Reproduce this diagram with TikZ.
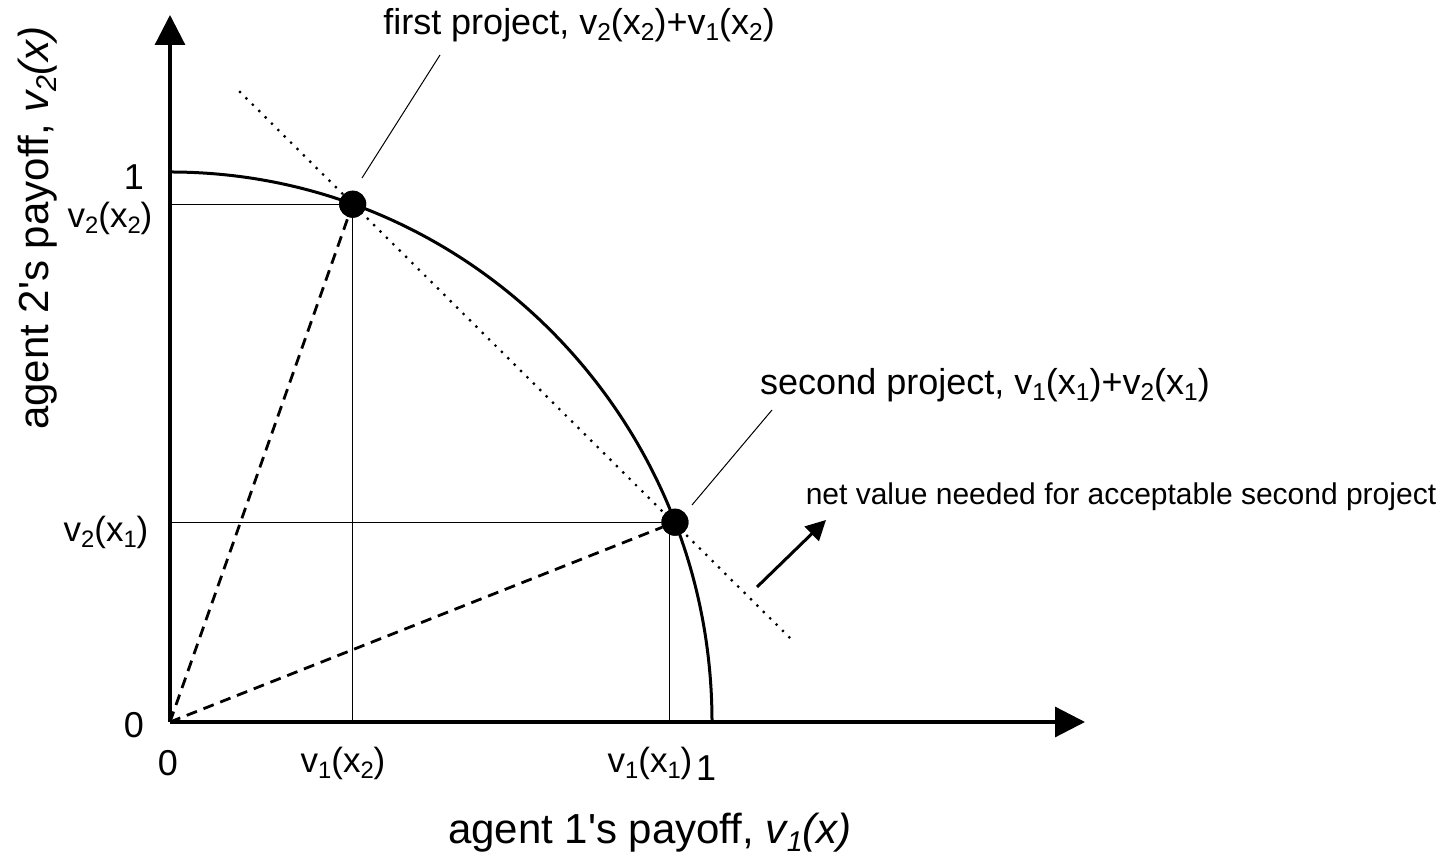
\documentclass[tikz,border=0pt]{standalone}
\usepackage{fontspec}
\setmainfont{Liberation Sans}
\usetikzlibrary{arrows.meta,calc}
\newcommand{\sbx}[1]{\raisebox{-0.18em}{\scalebox{0.68}{#1}}}
\newcommand{\apos}{\textquotesingle}
\begin{document}
\begin{tikzpicture}[x=1pt,y=1pt,
  axis/.style={line width=3.2pt,-{Triangle[length=30pt,width=30pt]}},
  frontier/.style={line width=3pt},
  thin/.style={line width=1pt},
  dashline/.style={line width=2.8pt,dash pattern=on 11pt off 7pt},
  dotline/.style={line width=3.2pt,line cap=round,dash pattern=on 0pt off 9pt},
  dot/.style={circle,fill=black,inner sep=0pt,minimum size=27pt},
  big/.style={font=\fontsize{42}{46}\selectfont},
  num/.style={font=\fontsize{36}{40}\selectfont},
  tick/.style={font=\fontsize{35}{39}\selectfont},
  proj/.style={font=\fontsize{36}{40}\selectfont},
  small/.style={font=\fontsize{30}{34}\selectfont}]
\useasboundingbox (0,0) rectangle (1455,858);
\coordinate (O) at (170,136);
\coordinate (ytip) at (170,843);
\coordinate (xtip) at (1085,136);
% dots (positions on the frontier)
\node[dot] (p2) at ($(O)+(70.3:542 and 550)$) {};
\node[dot] (p1) at ($(O)+(21.3:542 and 550)$) {};
% dotted iso-value line
\coordinate (d1) at (240,766);
\coordinate (d2) at (790,220);
\draw[dotline] (d1) -- (d2);
% thin guide lines
\draw[thin] (O |- p2) -- (p2.center) -- (p2.center |- O);
\draw[thin] (O |- p1) -- (p1.center);
\draw[thin] ([xshift=-5pt]p1.center) -- ([xshift=-5pt]p1.center |- O);
% dashed rays
\draw[dashline] (O) -- (p2);
\draw[dashline] (O) -- (p1);
% axes
\draw[axis] (O) -- (ytip);
\draw[axis] (O) -- (xtip);
% frontier
\draw[frontier] (170,686) arc[start angle=90,end angle=0,x radius=542,y radius=550];
\node[dot] at (p2) {};
\node[dot] at (p1) {};
% tick labels
\node[num] (one-y) at (134,681) {1};
\node[tick] (v2x2) at (110,640) {v\sbx{2}(x\sbx{2})};
\node[tick] (v2x1) at (106,326) {v\sbx{2}(x\sbx{1})};
\node[num] (zero-y) at (134,133) {0};
\node[num] (zero-x) at (168,95) {0};
\node[tick] (v1x2) at (343,95) {v\sbx{1}(x\sbx{2})};
\node[tick] (v1x1) at (650,95) {v\sbx{1}(x\sbx{1})};
\node[num] (one-x) at (706,90) {1};
% annotations
\node[proj] (first) at (579,833) {first project, v\sbx{2}(x\sbx{2})+v\sbx{1}(x\sbx{2})};
\node[proj] (second) at (985,473) {second project, v\sbx{1}(x\sbx{1})+v\sbx{2}(x\sbx{1})};
\node[small] (net) at (1121,361) {net value needed for acceptable second project};
\coordinate (f1) at (440,803);
\coordinate (f2) at (362,680);
\draw[thin] (f1) -- (f2);
\coordinate (s1) at (772,448);
\coordinate (s2) at (692,353);
\draw[thin] (s1) -- (s2);
\coordinate (a1) at (757,271);
\coordinate (a2) at (826,338);
\draw[line width=3pt,-{Triangle[length=20pt,width=20pt]}] (a1) -- (a2);
% axis titles
\node[big] (xlabel) at (650,25) {agent 1\apos s payoff, \textit{v\sbx{1}(x)}};
\node[big,rotate=90] (ylabel) at (38,630) {agent 2\apos s payoff, \textit{v\sbx{2}(x)}};
\end{tikzpicture}
\end{document}
